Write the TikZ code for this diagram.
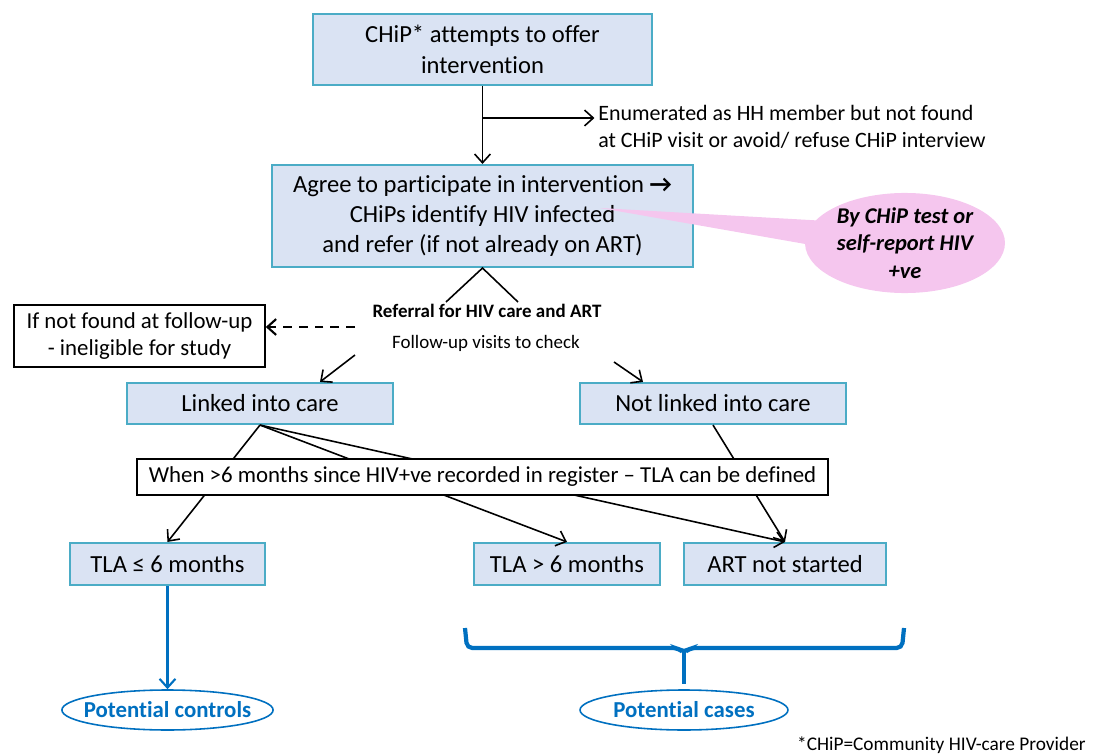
\documentclass[tikz,border=0pt]{standalone}
\usepackage{fontspec}
\setmainfont{Carlito}[Ligatures=NoCommon]
\usetikzlibrary{calc}
\usetikzlibrary{positioning}
\usetikzlibrary{arrows.meta}
\usetikzlibrary{shapes.geometric}
\usetikzlibrary{shapes.callouts}
\definecolor{stepfill}{RGB}{218,227,243}
\definecolor{stepline}{RGB}{75,172,198}
\definecolor{notepink}{RGB}{245,198,238}
\definecolor{caseblue}{RGB}{0,112,192}
\tikzset{stepbox/.style={rectangle,
                        draw=stepline,
                        line width=1.2pt,
                        fill=stepfill,
                        align=center,
                        inner sep=0pt,
                        font=\fontsize{14}{17.3}\selectfont
                        },
        plainbox/.style={rectangle,
                        draw=black,
                        line width=0.9pt,
                        fill=white,
                        align=center,
                        inner sep=0pt,
                        font=\fontsize{13}{15.9}\selectfont
        },
        groupoval/.style={ellipse,
                        draw=caseblue,
                        line width=0.9pt,
                        fill=white,
                        inner ysep=0pt,
                        inner xsep=-0.18cm,
                        text=caseblue,
                        font=\fontsize{13}{15}\selectfont\bfseries
        },
        flow/.style={-{Straight Barb[length=5pt,width=9pt]}, black, line width=0.9pt},
}

\begin{document}
\begin{tikzpicture}
    [x=0.02cm,y=-0.02cm]
    \useasboundingbox (0,0) rectangle (1100,754);

    % TOP OF THE FLOW
    \node[stepbox, minimum width=6.78cm, minimum height=1.42cm] (offer) at (482.5,49.5)
        {CHiP* attempts to offer\\intervention};

    \node[stepbox, minimum width=8.42cm, minimum height=2.04cm] (agree) at (482.5,216)
        {Agree to participate in intervention \textbf{→}\\CHiPs identify HIV infected\\and refer (if not already on ART)};

    \node[anchor=west, align=left, inner sep=0pt, font=\fontsize{12.5}{15.4}\selectfont] (enum) at (598,127)
        {Enumerated as HH member but not found\\at CHiP visit or avoid/ refuse CHiP interview};

    \coordinate (branch) at ($(offer.south)!0.41!(agree.north)$);
    \draw[flow] (offer) -- (agree);
    \draw[flow] (branch) -- ([xshift=-2pt]branch -| enum.west);

    % CALLOUT
    \coordinate (tip) at (600,208);
    \node[ellipse callout, callout absolute pointer={(tip)}, callout pointer arc=28,
          fill=notepink, draw=none, minimum width=4cm, minimum height=1.86cm,
          align=center, inner sep=0pt, font=\fontsize{12.8}{15.6}\selectfont\bfseries\itshape] (selfreport) at (905,243)
        {By CHiP test or\\self-report HIV\\+ve};

    % REFERRAL
    \node[font=\fontsize{10.8}{13}\selectfont\bfseries, inner sep=0pt] (referral) at (487,311) {Referral for HIV care and ART};
    \node[font=\fontsize{10.8}{13}\selectfont, inner sep=0pt] (check) at (486,343) {Follow-up visits to check};

    \coordinate (forkL) at (446,302);
    \coordinate (forkR) at (518,302);
    \draw[black, line width=0.9pt] (forkL) -- (agree.south) -- (forkR);

    \node[plainbox, minimum width=5.02cm, minimum height=1.24cm] (notfound) at (139.5,336)
        {If not found at follow-up\\- ineligible for study};

    \coordinate (lost) at (355,327);
    \draw[flow, line width=1.2pt, dash pattern=on 5pt off 4pt] (lost) -- (lost -| notfound.east);

    % LINKAGE
    \node[stepbox, minimum width=5.32cm, minimum height=0.82cm] (linked) at (260,403.5) {Linked into care};
    \node[stepbox, minimum width=5.32cm, minimum height=0.82cm] (notlinked) at (713,403.5) {Not linked into care};

    \coordinate (toLinked) at (355,355);
    \coordinate (toNotLinked) at (614,362);
    \draw[flow] (toLinked) -- ([xshift=1.2cm]linked.north);
    \draw[flow] (toNotLinked) -- ([xshift=-1.4cm]notlinked.north);

    % OUTCOMES
    \node[stepbox, minimum width=3.9cm, minimum height=0.84cm] (tlaShort) at (167.5,564) {TLA ≤ 6 months};
    \node[stepbox, minimum width=3.72cm, minimum height=0.84cm] (tlaLong) at (567,564) {TLA > 6 months};
    \node[stepbox, minimum width=4.04cm, minimum height=0.84cm] (notstarted) at (785,564) {ART not started};

    \draw[flow] (linked.south) -- (tlaShort.north);
    \draw[flow] (linked.south) -- (tlaLong.north);
    \draw[flow] (linked.south) -- (notstarted.north);
    \draw[flow] (notlinked.south) -- (notstarted.north);

    \node[plainbox, minimum width=13.82cm, minimum height=0.72cm] (defined) at (482.5,477)
        {When >6 months since HIV+ve recorded in register -- TLA can be defined};

    % STUDY GROUPS
    \node[groupoval, minimum width=4.22cm, minimum height=0.8cm] (controls) at (167.5,710) {Potential controls};
    \node[groupoval, minimum width=4.16cm, minimum height=0.8cm] (cases) at (684,710) {Potential cases};

    \draw[-{Straight Barb[length=5pt,width=9pt]}, caseblue, line width=1.2pt] (tlaShort) -- (controls);
    \draw[caseblue, line width=2.4pt, rounded corners=3pt]
        (465,628) -- (467,648) -- (678,648) -- (684,653) -- (690,648) -- (902,648) -- (904,628);
    \draw[caseblue, line width=2.4pt] (684,650) -- ([yshift=0.1cm]cases.north);

    \node[anchor=east, inner sep=0pt, font=\fontsize{11}{13}\selectfont] (footnote) at (1086,745)
        {*CHiP=Community HIV-care Provider};

\end{tikzpicture}
\end{document}
